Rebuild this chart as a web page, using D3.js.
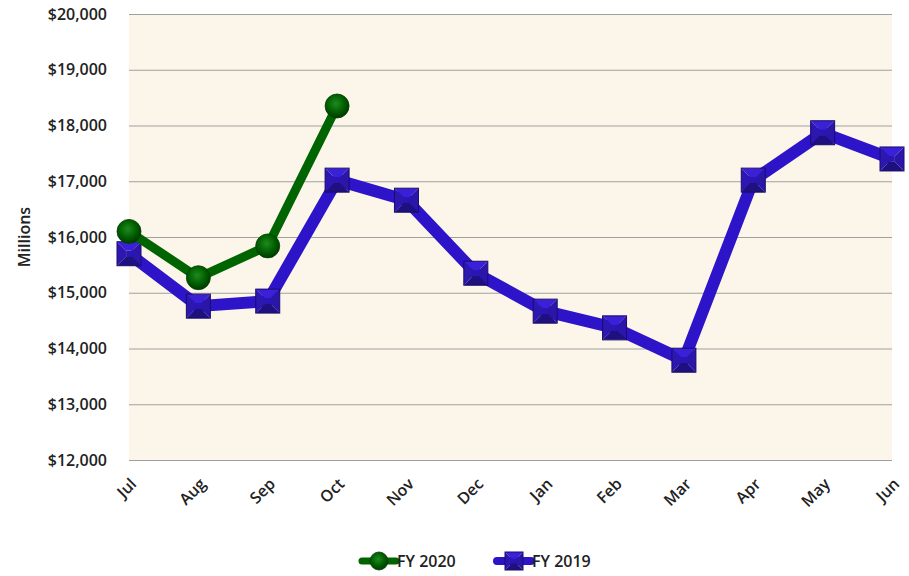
<!DOCTYPE html>
<html>
<head>
<meta charset="utf-8">
<script src="https://cdn.jsdelivr.net/npm/d3@7"></script>
<style>
  body { margin: 0; background: #fff; }
  text { font-family: "Open Sans", sans-serif; }
</style>
</head>
<body>
<div id="chart"></div>
<script>
const months = ["Jul", "Aug", "Sep", "Oct", "Nov", "Dec", "Jan", "Feb", "Mar", "Apr", "May", "Jun"]
const fy2020 = [16100, 15270, 15840, 18350]
const fy2019 = [15700, 14760, 14850, 17020, 16660, 15350, 14670, 14370, 13790, 17020, 17870, 17400]
const yTicks = [12000, 13000, 14000, 15000, 16000, 17000, 18000, 19000, 20000]

const width = 909
const height = 576
const margin = { top: 14, right: 17, bottom: 116, left: 129 }
const fontSize = "16px"
const fontWeight = 600

const svg = d3.select("#chart")
    .append("svg")
    .attr("width", width)
    .attr("height", height)

const defs = svg.append("defs")
const grad = defs.append("radialGradient")
    .attr("id", "greenBall")
    .attr("cx", "45%").attr("cy", "40%").attr("r", "60%")
grad.append("stop").attr("offset", "0%").attr("stop-color", "#1f8a1f")
grad.append("stop").attr("offset", "60%").attr("stop-color", "#005f00")
grad.append("stop").attr("offset", "100%").attr("stop-color", "#003a00")

const x = d3.scalePoint()
    .domain(months)
    .range([margin.left, width - margin.right])

const y = d3.scaleLinear()
    .domain([12000, 20000])
    .range([height - margin.bottom, margin.top])

// plot background
svg.append("rect")
    .attr("x", margin.left)
    .attr("y", margin.top)
    .attr("width", width - margin.left - margin.right)
    .attr("height", height - margin.top - margin.bottom)
    .attr("fill", "#fcf6ea")

// y axis with gridlines
const yAxis = svg.append("g")
    .attr("transform", `translate(${margin.left},0)`)
    .call(d3.axisLeft(y)
        .tickValues(yTicks)
        .tickSize(-(width - margin.left - margin.right))
        .tickPadding(22)
        .tickFormat(d => "$" + d3.format(",")(d)))
yAxis.select(".domain").remove()
yAxis.selectAll(".tick line").attr("stroke", "#a0a0a0").attr("stroke-width", 1.2)
yAxis.selectAll(".tick text")
    .attr("fill", "#222")
    .style("font-size", fontSize)
    .style("font-weight", fontWeight)

// x axis
const xAxis = svg.append("g")
    .attr("transform", `translate(0,${height - margin.bottom})`)
    .call(d3.axisBottom(x).tickSize(0).tickPadding(0))
xAxis.select(".domain").remove()
xAxis.selectAll(".tick text")
    .attr("fill", "#222")
    .style("font-size", fontSize)
    .style("font-weight", fontWeight)
    .attr("text-anchor", "end")
    .attr("dy", "0")
    .attr("transform", "translate(8,25) rotate(-45)")

// y title
svg.append("text")
    .attr("transform", `translate(30,${(margin.top + height - margin.bottom) / 2}) rotate(-90)`)
    .attr("text-anchor", "middle")
    .style("font-size", fontSize)
    .style("font-weight", fontWeight)
    .attr("fill", "#222")
    .text("Millions")

const line = d3.line()
    .x((d, i) => x(months[i]))
    .y(d => y(d))

const blue = "#2e14c8"
const green = "#006400"

// square marker with pyramid shading
const drawSquare = (g, cx, cy, s) => {
    const h = s / 2
    const k = s * 0.12
    const p = g.append("g").attr("transform", `translate(${cx},${cy})`)
    p.append("polygon").attr("points", `${-h},${-h} ${h},${-h} ${k},${-k} ${-k},${-k}`).attr("fill", "#3a20d6")
    p.append("polygon").attr("points", `${-h},${-h} ${-k},${-k} ${-k},${k} ${-h},${h}`).attr("fill", "#2c17b0")
    p.append("polygon").attr("points", `${h},${-h} ${h},${h} ${k},${k} ${k},${-k}`).attr("fill", "#2a16a8")
    p.append("polygon").attr("points", `${-h},${h} ${-k},${k} ${k},${k} ${h},${h}`).attr("fill", "#1f1080")
    p.append("rect").attr("x", -k).attr("y", -k).attr("width", 2 * k).attr("height", 2 * k).attr("fill", "#2a16b4")
    p.append("rect").attr("x", -h).attr("y", -h).attr("width", s).attr("height", s)
        .attr("fill", "none").attr("stroke", "#1a0d6a").attr("stroke-width", 1)
}

const drawBall = (g, cx, cy, r) => {
    g.append("circle").attr("cx", cx).attr("cy", cy).attr("r", r)
        .attr("fill", "url(#greenBall)")
        .attr("stroke", "#004000").attr("stroke-width", 0.8)
}

// FY 2019
svg.append("path")
    .datum(fy2019)
    .attr("fill", "none")
    .attr("stroke", blue)
    .attr("stroke-width", 12)
    .attr("stroke-linejoin", "round")
    .attr("d", line)
const sq = svg.append("g")
fy2019.forEach((v, i) => drawSquare(sq, x(months[i]), y(v), 24))

// FY 2020
svg.append("path")
    .datum(fy2020)
    .attr("fill", "none")
    .attr("stroke", green)
    .attr("stroke-width", 9)
    .attr("stroke-linejoin", "round")
    .attr("d", line)
const balls = svg.append("g")
fy2020.forEach((v, i) => drawBall(balls, x(months[i]), y(v), 12))

// legend
const legend = svg.append("g").attr("transform", "translate(0,561)")
const legendItems = [
    { name: "FY 2020", color: green, x0: 362, kind: "ball" },
    { name: "FY 2019", color: blue, x0: 497, kind: "square" }
]
legendItems.forEach(d => {
    legend.append("line")
        .attr("x1", d.x0).attr("x2", d.x0 + 34)
        .attr("stroke", d.color)
        .attr("stroke-width", d.kind === "ball" ? 7 : 8)
        .attr("stroke-linecap", "round")
    if (d.kind === "ball") drawBall(legend, d.x0 + 17, 0, 9)
    else drawSquare(legend, d.x0 + 17, 0, 18)
    legend.append("text")
        .attr("x", d.x0 + 35)
        .attr("dy", "0.35em")
        .style("font-size", fontSize)
        .style("font-weight", fontWeight)
        .attr("fill", "#222")
        .text(d.name)
})
</script>
</body>
</html>
